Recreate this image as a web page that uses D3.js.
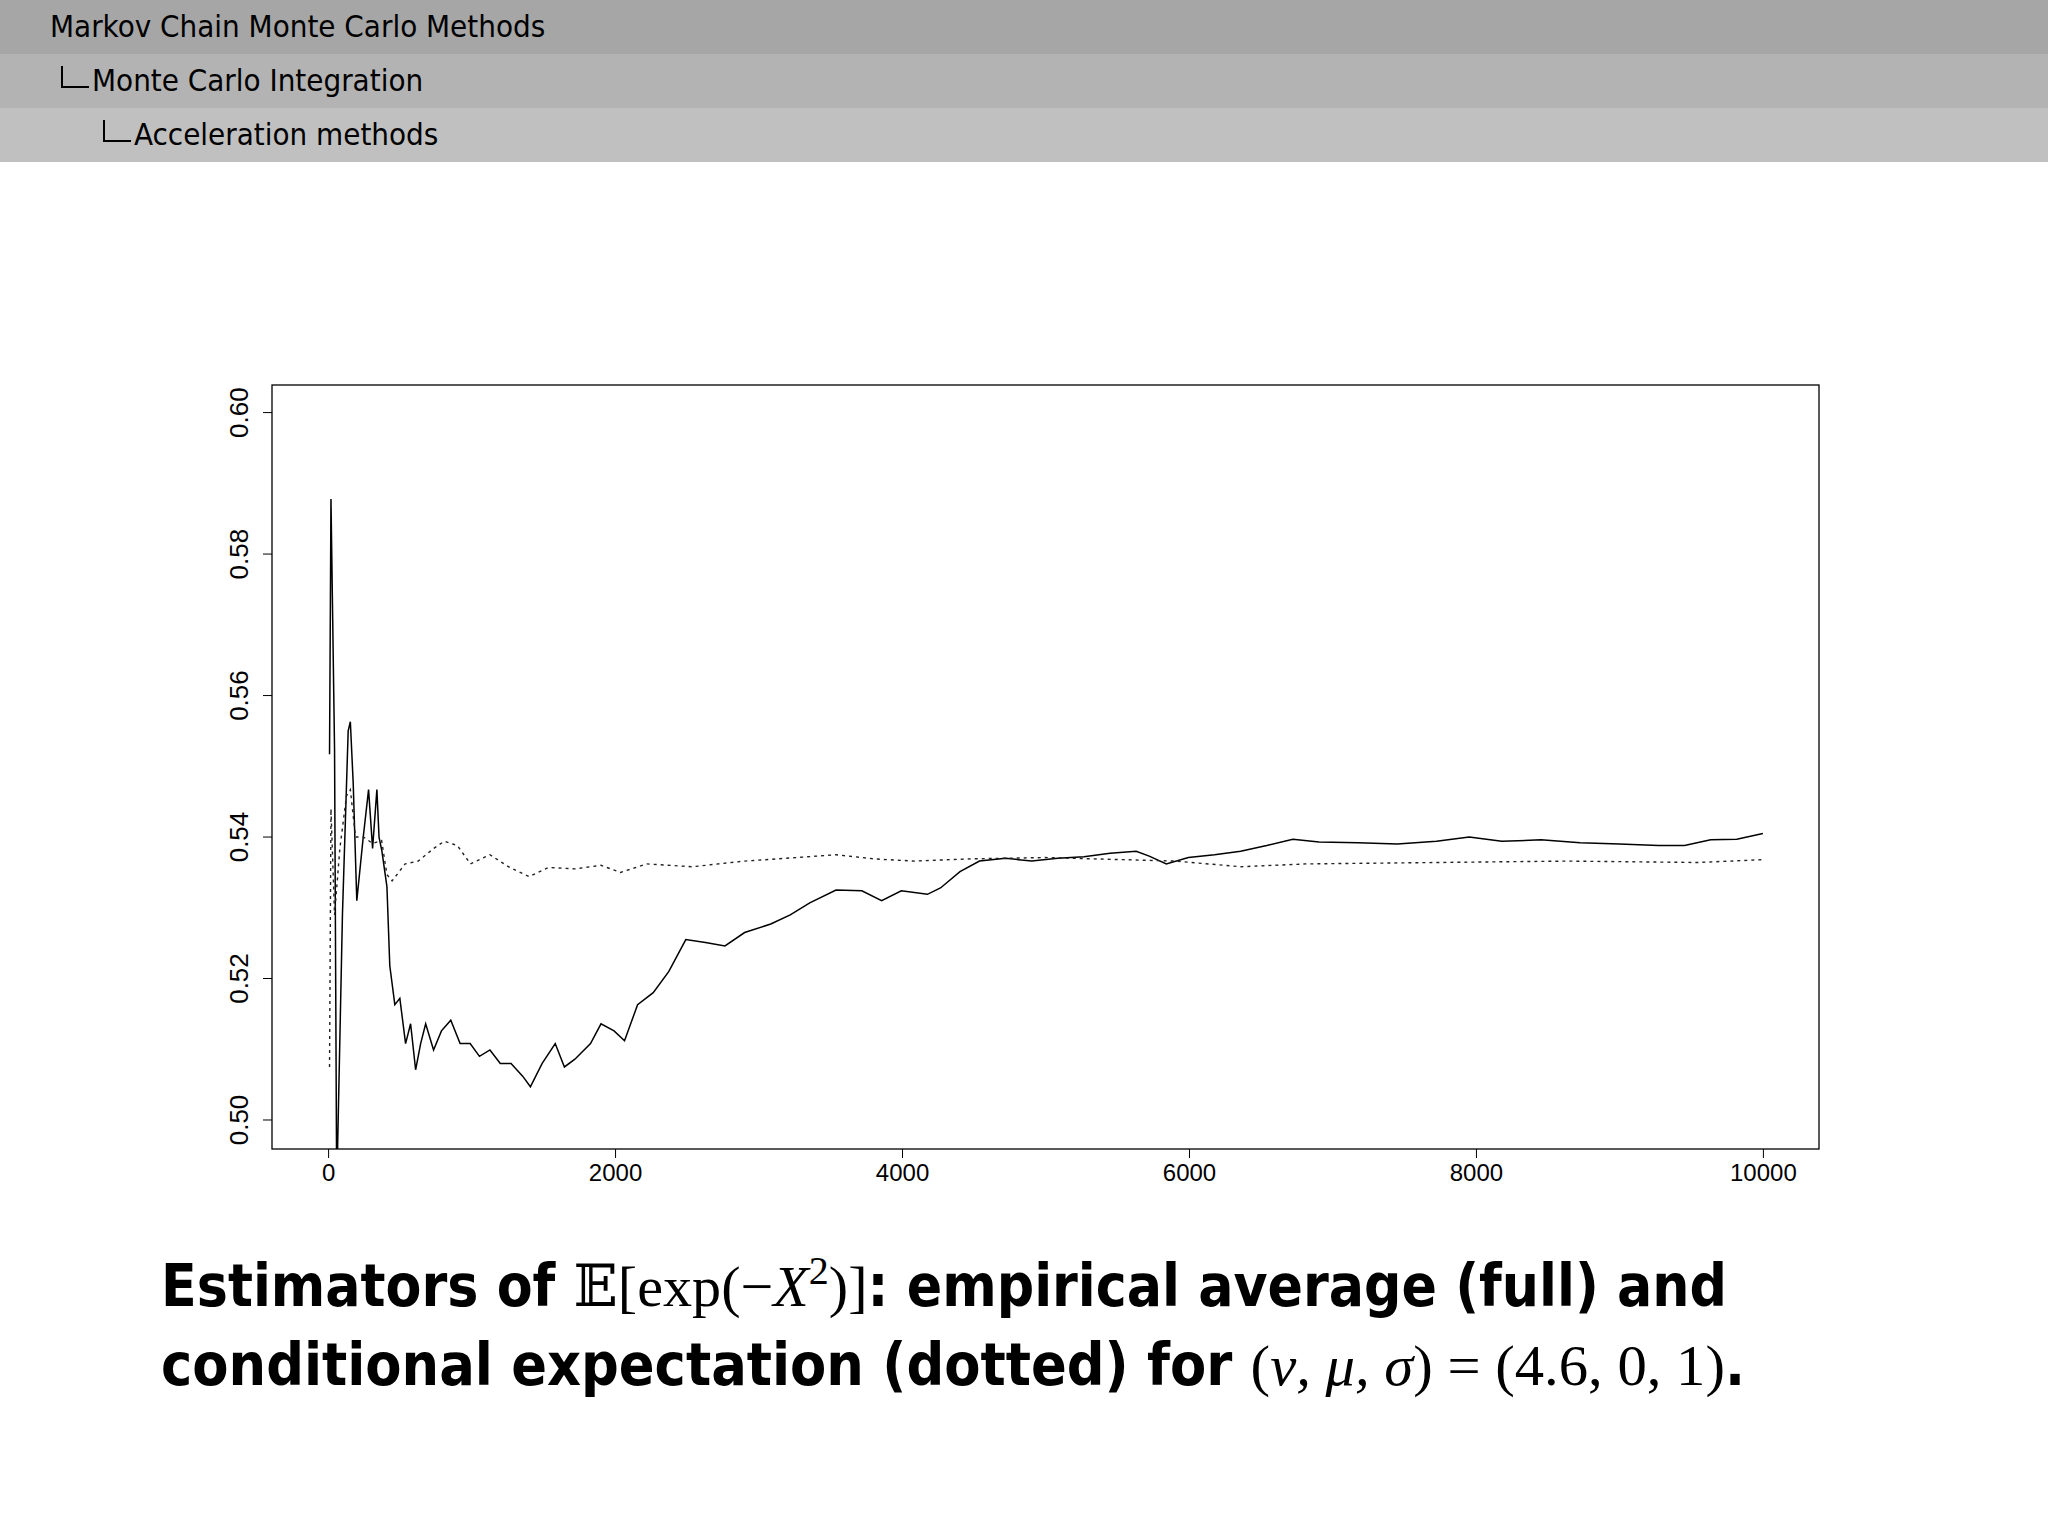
<!DOCTYPE html>
<html><head><meta charset="utf-8">
<script src="https://cdn.jsdelivr.net/npm/d3@7"></script>
<style>body{margin:0;background:#fff}svg{display:block}</style>
</head><body>
<script>
const headerItems = ["Markov Chain Monte Carlo Methods","Monte Carlo Integration","Acceleration methods"];
const xTicks = [0,2000,4000,6000,8000,10000];
const yTicks = [0.50,0.52,0.54,0.56,0.58,0.60];
const fullX = [10,20,45,60,100,140,155,175,200,245,282,310,340,355,375,410,430,465,500,540,575,610,645,680,735,790,855,920,990,1055,1128,1200,1275,1356,1410,1492,1583,1647,1720,1829,1902,1993,2066,2157,2266,2375,2493,2630,2766,2903,3085,3221,3357,3540,3720,3858,3995,4177,4268,4404,4540,4722,4904,5086,5268,5450,5632,5723,5842,5996,6178,6360,6542,6724,6906,7179,7452,7725,7953,8180,8453,8726,9000,9272,9454,9636,9818,10000];
const fullY = [0.5517,0.5878,0.5523,0.4900,0.5290,0.5550,0.5563,0.5476,0.5310,0.5400,0.5467,0.5384,0.5467,0.5400,0.5380,0.5330,0.5218,0.5163,0.5172,0.5108,0.5136,0.5071,0.5108,0.5136,0.5099,0.5126,0.5141,0.5108,0.5108,0.5090,0.5099,0.5080,0.5080,0.5062,0.5047,0.5080,0.5108,0.5075,0.5086,0.5108,0.5136,0.5126,0.5112,0.5163,0.5180,0.5210,0.5255,0.5251,0.5246,0.5265,0.5277,0.5290,0.5307,0.5325,0.5324,0.5310,0.5324,0.5319,0.5328,0.5351,0.5366,0.5370,0.5366,0.5370,0.5372,0.5377,0.5380,0.5373,0.5362,0.5371,0.5375,0.5380,0.5388,0.5397,0.5393,0.5392,0.5390,0.5394,0.5400,0.5394,0.5396,0.5392,0.5390,0.5388,0.5388,0.5396,0.5397,0.5405];
const dotX = [10,20,45,82,128,155,191,246,310,373,410,446,537,628,737,810,901,992,1128,1265,1401,1538,1720,1902,2038,2220,2539,2903,3267,3540,3813,4086,4450,4996,5541,5905,6360,6815,7725,8635,9545,10000];
const dotY = [0.5075,0.5440,0.5290,0.5384,0.5458,0.5467,0.5400,0.5400,0.5391,0.5395,0.5347,0.5338,0.5362,0.5366,0.5384,0.5394,0.5388,0.5362,0.5375,0.5357,0.5344,0.5357,0.5355,0.5360,0.5350,0.5362,0.5358,0.5366,0.5371,0.5375,0.5369,0.5366,0.5369,0.5371,0.5368,0.5366,0.5358,0.5362,0.5364,0.5366,0.5364,0.5368];

const W=2048,H=1536;
const svg=d3.select("body").append("svg").attr("width",W).attr("height",H);
const bandColors=["#a6a6a6","#b3b3b3","#c0c0c0"];
const bandH=54;
headerItems.forEach((t,i)=>{
  svg.append("rect").attr("x",0).attr("y",i*bandH).attr("width",W).attr("height",bandH).attr("fill",bandColors[i]);
  const indent=50+i*42;
  if(i>0){
    svg.append("path").attr("d",`M${indent-30},${i*bandH+12}V${i*bandH+33}H${indent-3}`).attr("stroke","#000").attr("stroke-width",2).attr("fill","none");
  }
  svg.append("text").attr("x",indent).attr("y",i*bandH+37).attr("font-family","Liberation Sans Narrow, DejaVu Sans Condensed, sans-serif").attr("font-size",31).attr("fill","#000").text(t);
});

const pL=272,pR=1819,pT=385,pB=1149;
const x=d3.scaleLinear().domain([-391,10391]).range([pL,pR]);
const y=d3.scaleLinear().domain([0.4959,0.6039]).range([pB,pT]);
svg.append("defs").append("clipPath").attr("id","c").append("rect").attr("x",pL).attr("y",pT).attr("width",pR-pL).attr("height",pB-pT);
const g=svg.append("g");
g.append("rect").attr("x",pL).attr("y",pT).attr("width",pR-pL).attr("height",pB-pT).attr("fill","none").attr("stroke","#000").attr("stroke-width",1.3);
const xa=d3.axisBottom(x).tickValues(xTicks).tickSize(9).tickPadding(6).tickFormat(d3.format("d"));
const gx=g.append("g").attr("transform",`translate(0,${pB})`).call(xa);
gx.select(".domain").attr("stroke","none");
gx.selectAll("text").attr("font-family","Liberation Sans, Arial, sans-serif").attr("font-size",24);
const ya=d3.axisLeft(y).tickValues(yTicks).tickSize(9).tickPadding(6).tickFormat(d3.format(".2f"));
const gy=g.append("g").attr("transform",`translate(${pL},0)`).call(ya);
gy.select(".domain").attr("stroke","none");
gy.selectAll(".tick").attr("transform",null).each(function(d){
  const t=d3.select(this);
  t.select("line").attr("y1",y(d)).attr("y2",y(d));
  t.select("text").attr("font-family","Liberation Sans Narrow, Arial Narrow, sans-serif").attr("font-size",26)
   .attr("transform","rotate(-90)").attr("text-anchor","middle").attr("x",-y(d)).attr("y",-24).attr("dy","0");
});

const line=d3.line().x(d=>x(d[0])).y(d=>y(d[1]));
g.append("path").datum(fullX.map((v,i)=>[v,fullY[i]])).attr("d",line).attr("clip-path","url(#c)").attr("fill","none").attr("stroke","#000").attr("stroke-width",1.5);
g.append("path").datum(dotX.map((v,i)=>[v,dotY[i]])).attr("d",line).attr("clip-path","url(#c)").attr("fill","none").attr("stroke","#222").attr("stroke-width",1.4).attr("stroke-dasharray","3,4");

const cap=svg.append("g").attr("font-size",58).attr("fill","#000");
const sans="Liberation Sans Narrow, DejaVu Sans Condensed, sans-serif";
const serif="Liberation Serif, DejaVu Serif, serif";
const t1=cap.append("text").attr("x",161).attr("y",1306).attr("textLength",1566).attr("lengthAdjust","spacingAndGlyphs");
t1.append("tspan").attr("font-family",sans).attr("font-weight","bold").text("Estimators of ");
t1.append("tspan").attr("font-family",serif).text("𝔼[exp(−");
t1.append("tspan").attr("font-family",serif).attr("font-style","italic").text("X");
t1.append("tspan").attr("font-family",serif).attr("font-size",40).attr("dy",-22).text("2");
t1.append("tspan").attr("font-family",serif).attr("dy",22).text(")]");
t1.append("tspan").attr("font-family",sans).attr("font-weight","bold").text(": empirical average (full) and");
const t2=cap.append("text").attr("x",161).attr("y",1385).attr("textLength",1584).attr("lengthAdjust","spacingAndGlyphs");
t2.append("tspan").attr("font-family",sans).attr("font-weight","bold").text("conditional expectation (dotted) for ");
t2.append("tspan").attr("font-family",serif).text("(");
t2.append("tspan").attr("font-family",serif).attr("font-style","italic").text("ν, μ, σ");
t2.append("tspan").attr("font-family",serif).text(") = (4.6, 0, 1)");
t2.append("tspan").attr("font-family",sans).attr("font-weight","bold").text(".");
</script>
</body></html>
